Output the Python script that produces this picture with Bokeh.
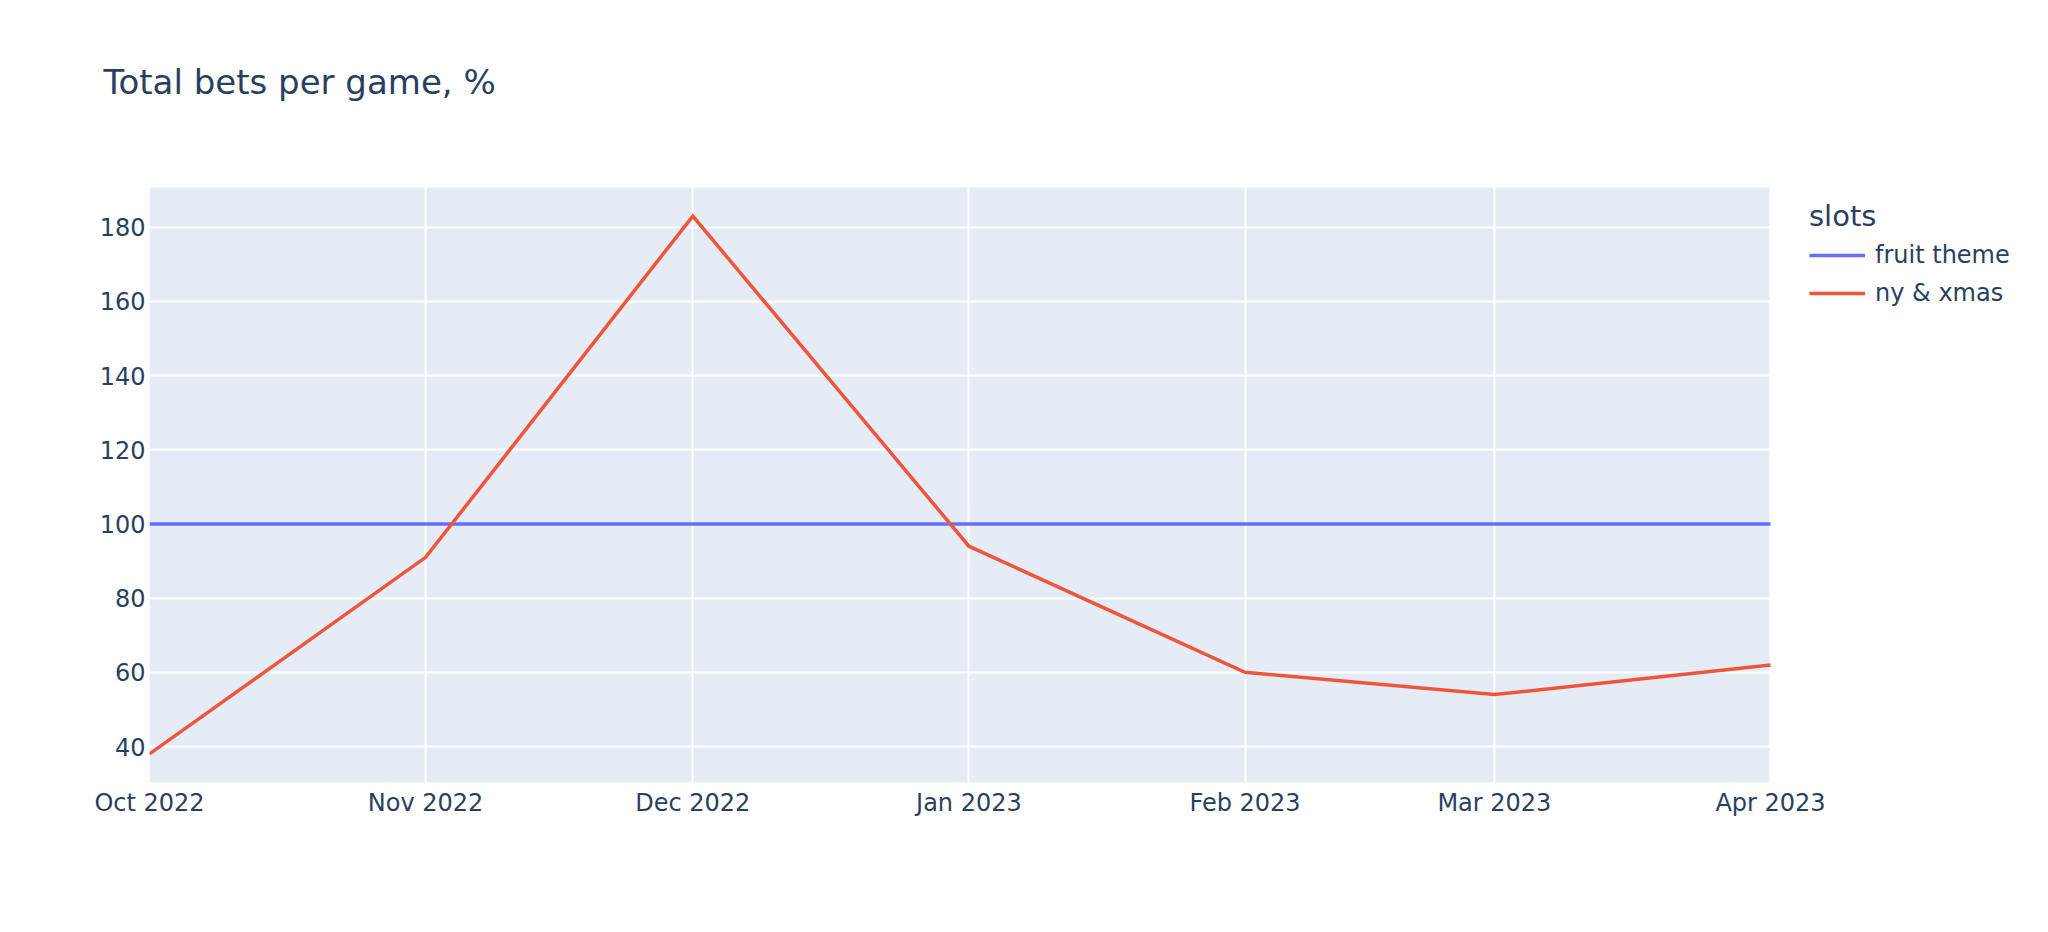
from datetime import datetime
from bokeh.plotting import figure
from bokeh.models import (Range1d, FixedTicker, DatetimeTickFormatter, Legend, LegendItem,
                          ColumnDataSource, BoxAnnotation)
from bokeh.embed import file_html
from bokeh.resources import INLINE

# ---- data ----
months = ["2022-10-01", "2022-11-01", "2022-12-01", "2023-01-01",
          "2023-02-01", "2023-03-01", "2023-04-01"]
fruit_theme = [100, 100, 100, 100, 100, 100, 100]
ny_xmas = [38, 91, 183, 94, 60, 54, 62]
y_ticks = [40, 60, 80, 100, 120, 140, 160, 180]
series_names = ["fruit theme", "ny & xmas"]
legend_title = "slots"
chart_title = "Total bets per game, %"

EPOCH = datetime(1970, 1, 1)
dates = [datetime.strptime(m, "%Y-%m-%d") for m in months]
ms = [(d - EPOCH).total_seconds() * 1000 for d in dates]

FONT = "DejaVu Sans"
TXT = "#2a3f5f"
PANEL_BG = "#E5ECF6"

# layout (pixels): plotting area of the data, and the (larger) bokeh frame
W, H = 2032, 916
FRAME_L, FRAME_R, FRAME_T, FRAME_B = 149, 2016, 150, 782
DATA_R, DATA_T = 1770, 187
Y_LO, Y_HI = 30.3, 190.7

x0, x1 = ms[0], ms[-1]
x_end = x0 + (x1 - x0) * (FRAME_R - FRAME_L) / (DATA_R - FRAME_L)
y_end = Y_LO + (Y_HI - Y_LO) * (FRAME_B - FRAME_T) / (FRAME_B - DATA_T)

p = figure(width=W, height=H, output_backend="svg", toolbar_location=None,
           x_axis_type="datetime",
           x_range=Range1d(x0, x_end),
           y_range=Range1d(Y_LO, y_end),
           min_border_left=FRAME_L, min_border_right=W - FRAME_R,
           min_border_top=FRAME_T, min_border_bottom=H - FRAME_B)

p.background_fill_color = "white"
p.border_fill_color = "white"
p.outline_line_color = None

# plotting-area background
p.add_layout(BoxAnnotation(left=x0, right=x1, bottom=Y_LO, top=Y_HI,
                           fill_color=PANEL_BG, fill_alpha=1.0, line_color=None,
                           level="image"))

# title
p.title.text = chart_title
p.title.text_font = FONT
p.title.text_font_size = "34px"
p.title.text_font_style = "normal"
p.title.text_color = TXT
p.title.align = "left"
p.title.offset = -46
p.title.standoff = 98

# grids
for g in (p.xgrid, p.ygrid):
    g.grid_line_color = "white"
    g.grid_line_width = 2

# axes
p.xaxis.ticker = FixedTicker(ticks=ms)
fmt = "%b %Y"
p.xaxis.formatter = DatetimeTickFormatter(years=fmt, months=fmt, days=fmt, hours=fmt,
                                          minutes=fmt, seconds=fmt, milliseconds=fmt,
                                          minsec=fmt, hourmin=fmt)
p.yaxis.ticker = FixedTicker(ticks=y_ticks)
for ax in (p.xaxis, p.yaxis):
    ax.axis_line_color = None
    ax.major_tick_line_color = None
    ax.minor_tick_line_color = None
    ax.major_tick_out = 0
    ax.major_tick_in = 0
    ax.major_label_text_font = FONT
    ax.major_label_text_font_size = "24px"
    ax.major_label_text_color = TXT
p.yaxis.major_label_standoff = 4
p.xaxis.major_label_standoff = 6

src = ColumnDataSource(dict(x=ms, a=fruit_theme, b=ny_xmas))
r1 = p.line("x", "a", source=src, line_color="#636EFA", line_width=3.5, line_join="miter")
r2 = p.line("x", "b", source=src, line_color="#EF553B", line_width=3.5, line_join="miter")

legend = Legend(items=[LegendItem(label=series_names[0], renderers=[r1]),
                       LegendItem(label=series_names[1], renderers=[r2])],
                location=(1660, 475))
legend.title = legend_title
legend.title_text_font = FONT
legend.title_text_font_size = "29px"
legend.title_text_font_style = "normal"
legend.title_text_color = TXT
legend.title_standoff = 8
legend.label_text_font = FONT
legend.label_text_font_size = "24px"
legend.label_text_color = TXT
legend.glyph_width = 56
legend.glyph_height = 28
legend.label_height = 28
legend.label_standoff = 10
legend.spacing = 10
legend.padding = 0
legend.margin = 0
legend.background_fill_alpha = 0
legend.border_line_color = None
p.add_layout(legend)

open("out.html", "w").write(file_html(p, INLINE))
